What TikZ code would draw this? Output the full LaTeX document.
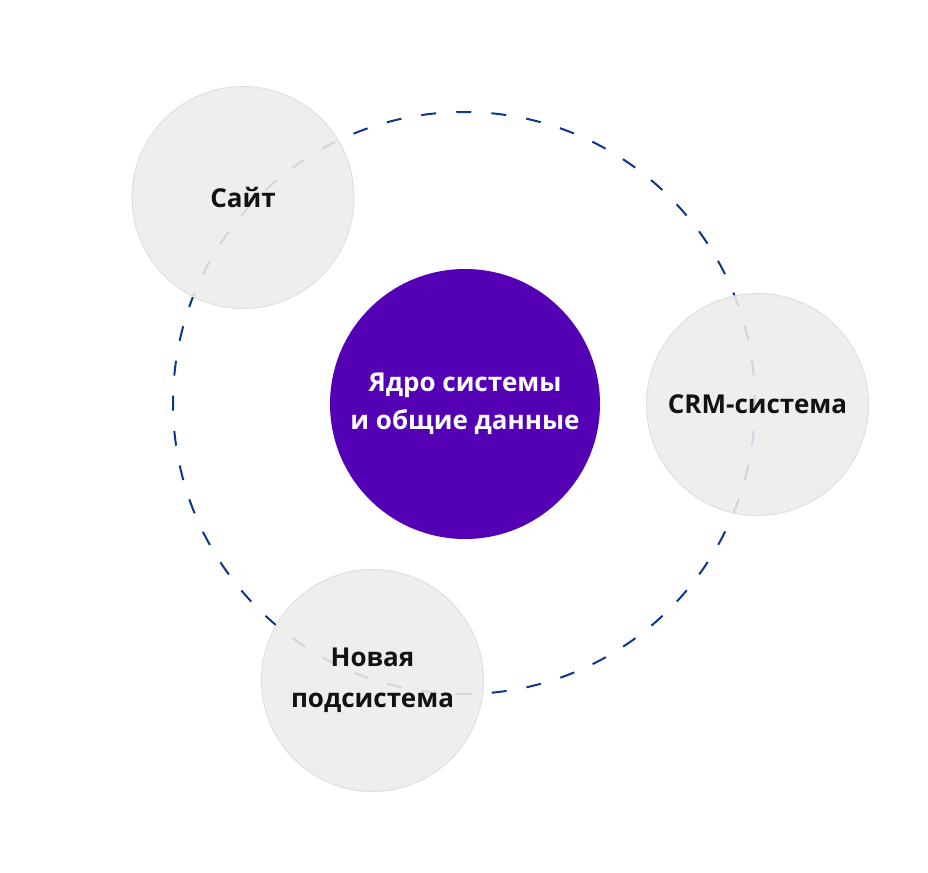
\documentclass[tikz,border=0pt]{standalone}
\usepackage{fontspec}
\setmainfont{Open Sans}
\definecolor{orbitblue}{RGB}{13,55,140}
\definecolor{coreviolet}{RGB}{84,0,181}
\definecolor{satgray}{RGB}{236,237,235}
\definecolor{satedge}{RGB}{224,225,223}

\begin{document}
\begin{tikzpicture}
            [x=0.75pt,y=-0.75pt,
             every node/.style={circle,inner sep=0pt,align=center,
               font=\bfseries\fontsize{19.5}{28.5}\selectfont},
             corenode/.style={fill=coreviolet,text=white,minimum size=202.5pt},
             satnode/.style={fill=satgray,fill opacity=0.88,text opacity=1,
               draw=satedge,line width=0.8pt,text=black!93,minimum size=166.5pt}]

            \useasboundingbox (0,0) rectangle (928,873);

            \draw[orbitblue,line width=1.5pt,
              dash pattern=on 11.25pt off 15.12pt,dash phase=5.625pt]
              (464,403) circle (291);

            \node[corenode] (yadro) at (465,404) {Ядро системы\\и общие данные};

            \foreach \name/\x/\y/\label in {sajt/243/197.5/{Сайт},
                crm/757.5/404.5/{CRM-система},
                novaya/372.5/680.5/{Новая\\[2.5pt]подсистема}}
              \node[satnode] (\name) at (\x,\y) {\label};

          \end{tikzpicture}
\end{document}
